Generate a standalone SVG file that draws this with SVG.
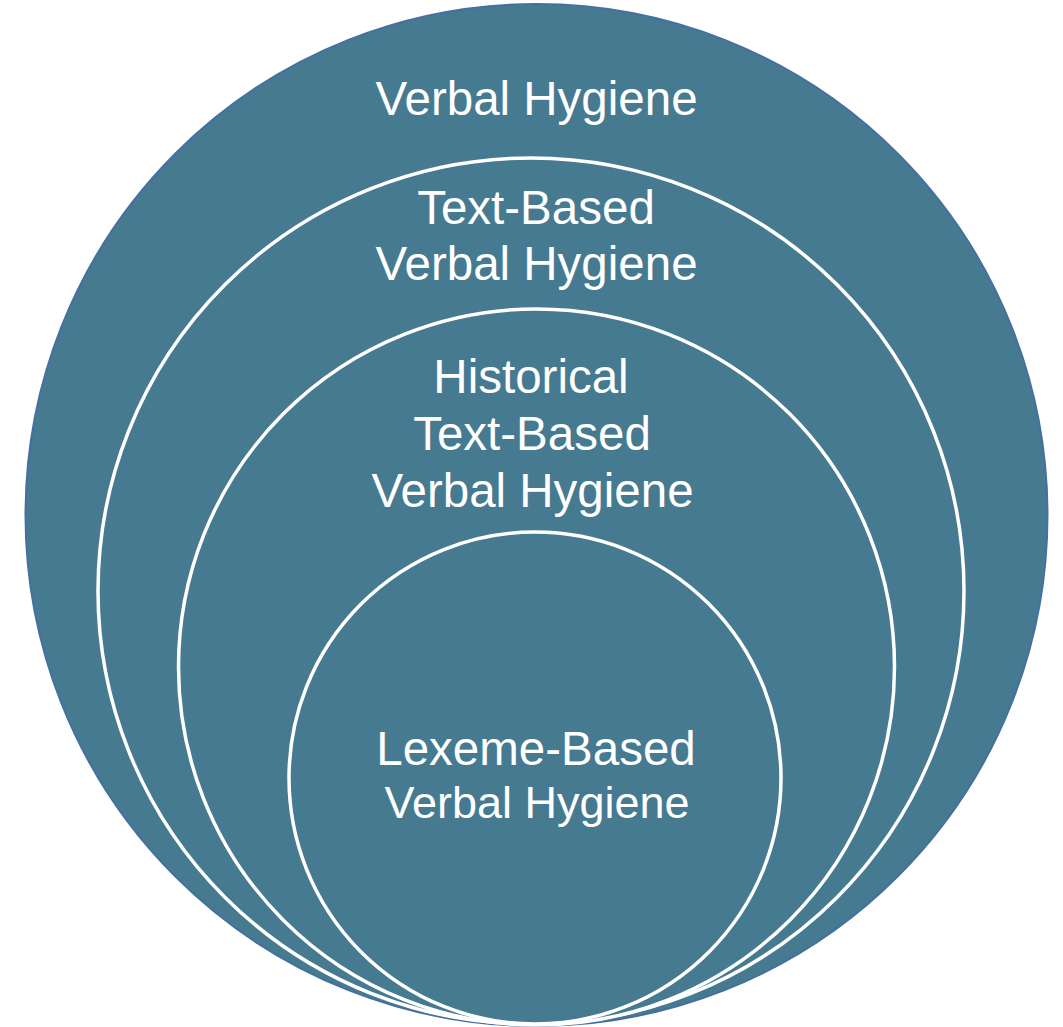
<svg xmlns="http://www.w3.org/2000/svg" width="1063" height="1027" viewBox="0 0 1063 1027">
  <style>
    .ring { fill: #467a91; stroke: #ffffff; stroke-width: 3.5; }
    .outer { fill: #467a91; stroke: #4470a0; stroke-width: 2; }
    .label { font-family: "Liberation Sans", Arial, sans-serif; font-size: 47.5px; fill: #ffffff; text-anchor: middle; }
  </style>
  <rect width="1063" height="1027" fill="#ffffff"/>
  <g id="verbal-hygiene">
    <circle class="outer" cx="536.5" cy="515" r="511"/>
    <text class="label" x="536.5" y="115">Verbal Hygiene</text>
  </g>
  <g id="text-based">
    <circle class="ring" cx="531" cy="591" r="433"/>
    <text class="label" x="536" y="224">Text-Based</text>
    <text class="label" x="536.5" y="280">Verbal Hygiene</text>
  </g>
  <g id="historical">
    <circle class="ring" cx="536.5" cy="667" r="358"/>
    <text class="label" x="531" y="393">Historical</text>
    <text class="label" x="532" y="450">Text-Based</text>
    <text class="label" x="532.5" y="507">Verbal Hygiene</text>
  </g>
  <g id="lexeme-based">
    <circle class="ring" cx="535" cy="778" r="246"/>
    <text class="label" x="536" y="765">Lexeme-Based</text>
    <text class="label" x="537" y="818" style="font-size:45px">Verbal Hygiene</text>
  </g>
  <g id="connectors"/>
</svg>
